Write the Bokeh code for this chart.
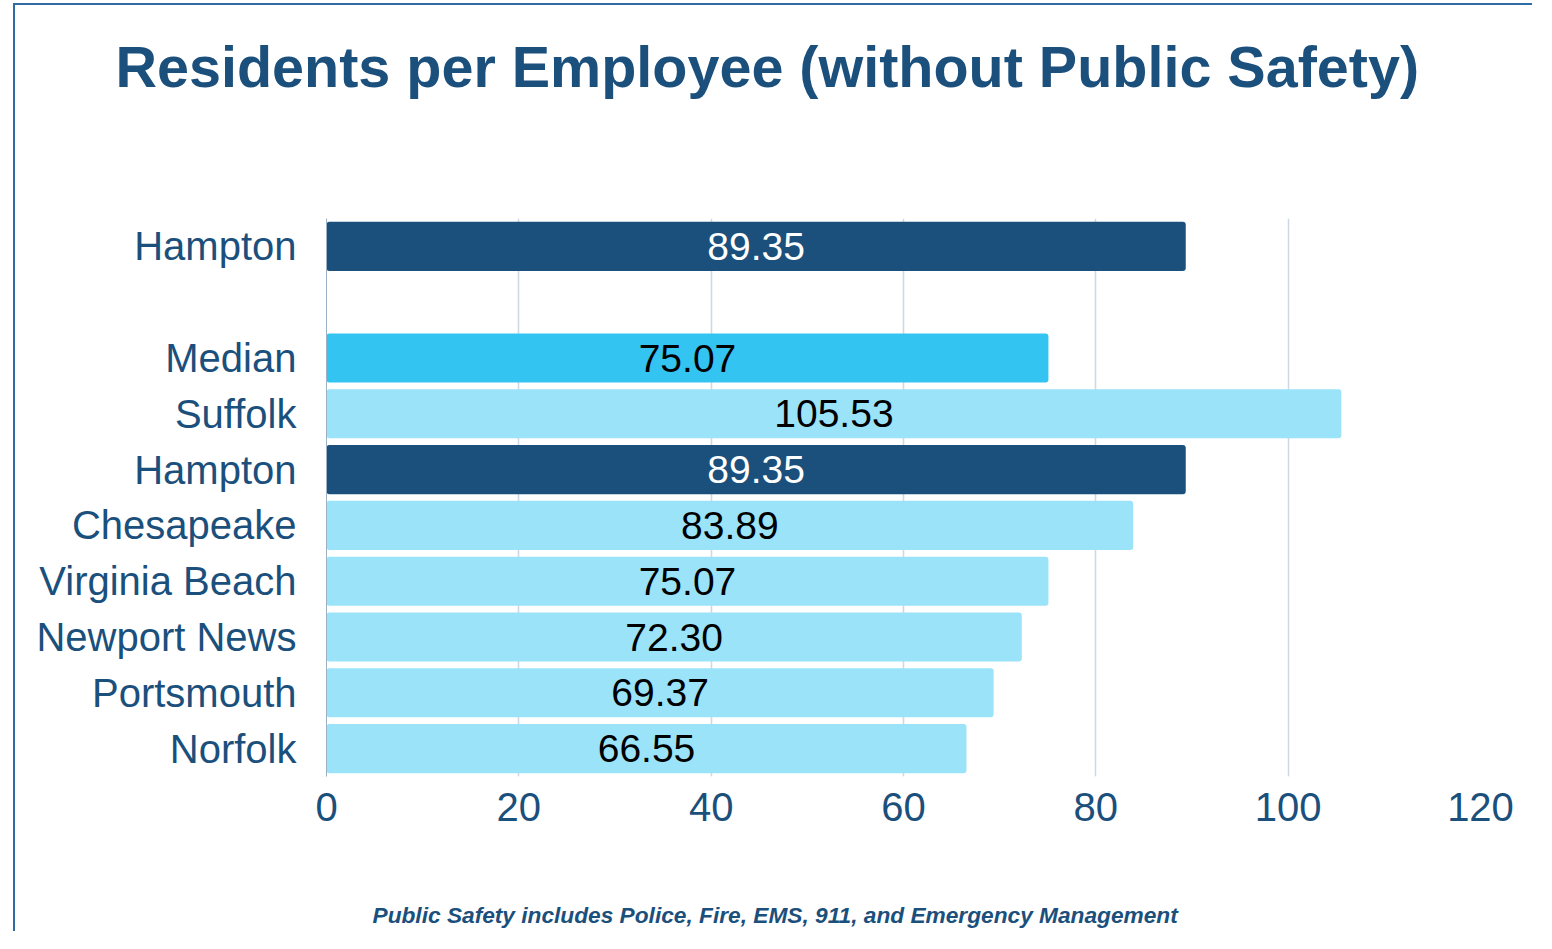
from bokeh.plotting import figure
from bokeh.models import ColumnDataSource, FixedTicker, Range1d, Title
from bokeh.core.properties import value
from bokeh.embed import file_html
from bokeh.resources import INLINE

# ---- data ----
cities = ["Hampton", "Median", "Suffolk", "Hampton", "Chesapeake",
          "Virginia Beach", "Newport News", "Portsmouth", "Norfolk"]
residents = [89.35, 75.07, 105.53, 89.35, 83.89, 75.07, 72.30, 69.37, 66.55]
groups = ["Hampton", "Median", "Peer", "Hampton", "Peer", "Peer", "Peer", "Peer", "Peer"]
x_ticks = [0, 20, 40, 60, 80, 100, 120]
title_text = "Residents per Employee (without Public Safety)"
note_text = "Public Safety includes Police, Fire, EMS, 911, and Emergency Management"

# ---- styling ----
DARK = "#1B4F7C"
fill_map = {"Hampton": "#1B4F7C", "Median": "#33C4F1", "Peer": "#9BE3F9"}
text_map = {"Hampton": "#FFFFFF", "Median": "#000000", "Peer": "#000000"}
FONT = "Liberation Sans"

# a blank slot separates the first bar from the rest
slots = [0] + [i + 1 for i in range(1, len(cities))]
n_slots = slots[-1] + 1

src = ColumnDataSource(dict(
    y=slots,
    right=residents,
    mid=[v / 2 for v in residents],
    label=[f"{v:.2f}" for v in residents],
    color=[fill_map[g] for g in groups],
    tcolor=[text_map[g] for g in groups],
))

p = figure(width=1519, height=928, title=None,
           x_range=Range1d(0, 120), y_range=Range1d(n_slots - 0.5, -0.5),
           output_backend="svg", toolbar_location=None,
           min_border_left=311, min_border_right=54,
           min_border_top=213, min_border_bottom=157)
p.styles = {"border-left": "2px solid #2F6CA5", "border-top": "2px solid #2F6CA5",
            "margin-left": "13px", "margin-top": "3px"}
p.outline_line_color = None
p.background_fill_color = "white"
p.border_fill_color = "white"

p.hbar(y="y", left=0, right="right", height=0.88, fill_color="color",
       line_color=None, border_radius=3, source=src)
p.text(x="mid", y="y", text="label", text_color="tcolor", text_align="center",
       text_baseline="middle", text_font=value(FONT), text_font_size="39px",
       source=src)

# spacing panels (blank) keep the title and the footnote away from the frame
p.add_layout(Title(text=" ", text_font_size="2px", standoff=116), "above")
p.add_layout(Title(text=title_text, align="left", offset=-211, standoff=0,
                   text_font=FONT, text_font_size="57.5px", text_font_style="bold",
                   text_color=DARK), "above")

p.add_layout(Title(text=" ", text_font_size="2px", standoff=72), "below")
p.add_layout(Title(text=note_text, align="left", offset=46, standoff=0,
                   text_font=FONT, text_font_size="22.7px",
                   text_font_style="bold italic", text_color=DARK), "below")

# axes
p.xaxis.ticker = FixedTicker(ticks=x_ticks)
p.xaxis.axis_line_color = None
p.xaxis.major_tick_line_color = None
p.xaxis.minor_tick_line_color = None
p.xaxis.major_label_standoff = 10
p.xaxis.major_label_text_font = FONT
p.xaxis.major_label_text_font_size = "40px"
p.xaxis.major_label_text_color = DARK

p.yaxis.ticker = FixedTicker(ticks=slots)
p.yaxis.major_label_overrides = {s: c for s, c in zip(slots, cities)}
p.yaxis.axis_line_color = "#9DB1C6"
p.yaxis.axis_line_width = 1
p.yaxis.major_tick_line_color = None
p.yaxis.minor_tick_line_color = None
p.yaxis.major_label_standoff = 24
p.yaxis.major_label_text_font = FONT
p.yaxis.major_label_text_font_size = "40px"
p.yaxis.major_label_text_color = DARK

p.xgrid.grid_line_color = "#CCD8E4"
p.xgrid.grid_line_width = 1.5
p.ygrid.grid_line_color = None

open("out.html", "w").write(file_html(p, INLINE))
